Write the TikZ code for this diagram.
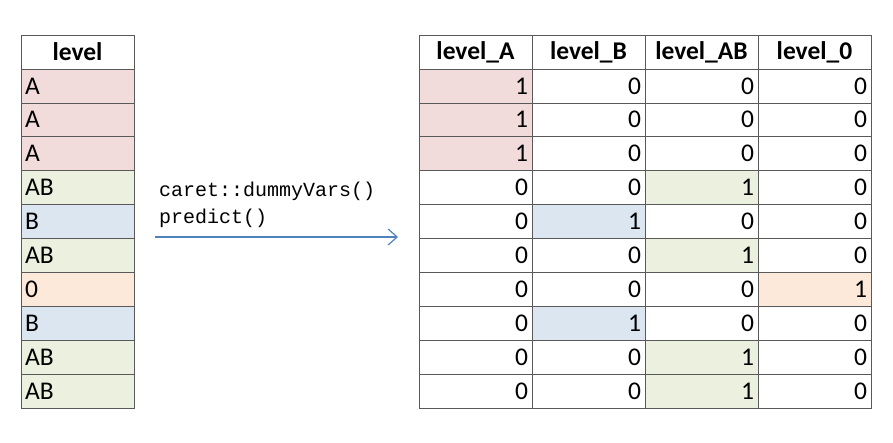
\documentclass[tikz,border=0pt]{standalone}
\usepackage{fontspec}
\setmainfont{Carlito}
\newfontfamily\codefont{Liberation Mono}
\usetikzlibrary{arrows.meta}
\definecolor{cA}{HTML}{F2DCDB}
\definecolor{cB}{HTML}{DCE6F1}
\definecolor{cAB}{HTML}{EBF1DE}
\definecolor{c0}{HTML}{FDE9D9}
\definecolor{arrowblue}{HTML}{4F81BD}
\tikzset{
  cell/.style={draw=black!65, minimum height=33.9pt, inner ysep=0pt, inner xsep=4pt,
    text width=105pt, outer sep=0pt, anchor=north west, font=\fontsize{25.5}{28}\selectfont},
  head/.style={cell, align=center, font=\fontsize{25.5}{28}\selectfont\bfseries},
  lab/.style={cell, align=left},
  num/.style={cell, align=right},
}
\begin{document}
\begin{tikzpicture}[x=1pt,y=-1pt]
  \useasboundingbox (0,0) rectangle (893,443);
  % left table
  \node[head] (lh) at (21,35) {level};
  % right table header
  \foreach \col [count=\j] in {A,B,AB,0}
    \node[head] (rh\j) at ({419+113*(\j-1)},35) {level\_\col};
  % rows
  \foreach \lv [count=\i] in {A,A,A,AB,B,AB,0,B,AB,AB} {
    \node[lab, fill=c\lv] (l\i) at (21,{35+33.9*\i}) {\lv};
    \foreach \col [count=\j] in {A,B,AB,0} {
      \edef\lvname{\lv}\edef\colname{\col}
      \ifx\lvname\colname \def\val{1}\def\fillc{c\lv}\else \def\val{0}\def\fillc{white}\fi
      \node[num, fill=\fillc] (r\i\j) at ({419+113*(\j-1)},{35+33.9*\i}) {\val};
    }
  }
  % arrow with code
  \coordinate (from) at (155,237);
  \coordinate (to) at (398,237);
  \draw[arrowblue, line width=1.2pt, -{Straight Barb[length=9pt,width=16pt]}] (from) -- (to);
  \node[anchor=west, inner sep=0pt, font=\codefont\fontsize{20}{24}\selectfont] (code1) at (159,191) {caret::dummyVars()};
  \node[anchor=west, inner sep=0pt, font=\codefont\fontsize{20}{24}\selectfont] (code2) at (159,218) {predict()};
\end{tikzpicture}
\end{document}
